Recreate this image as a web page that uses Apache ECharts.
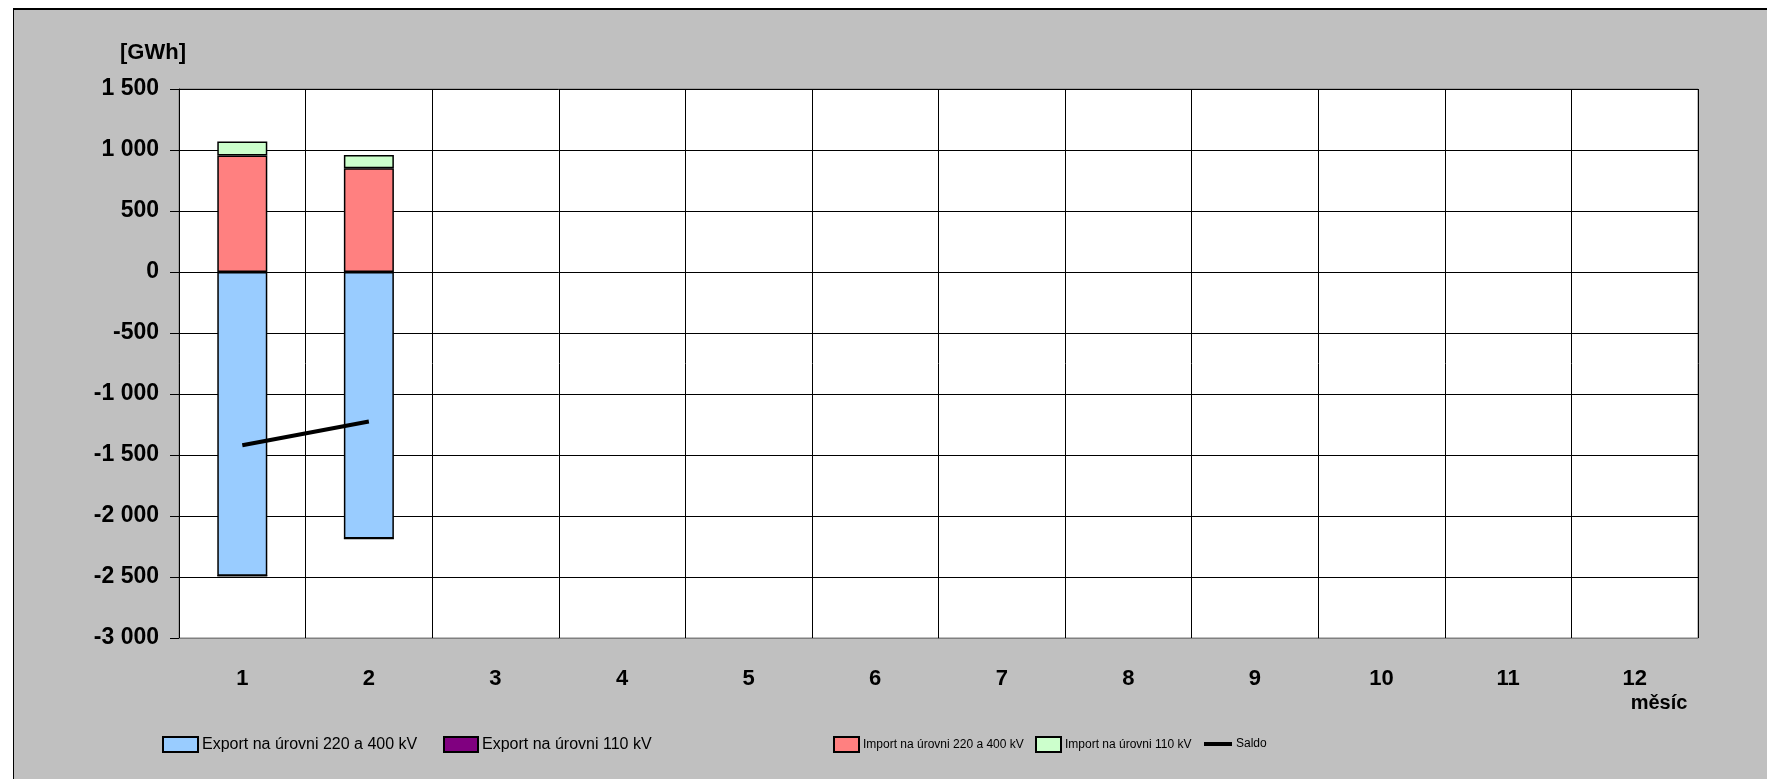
<!DOCTYPE html>
<html>
<head>
<meta charset="utf-8">
<script src="https://cdn.jsdelivr.net/npm/echarts@6/dist/echarts.min.js"></script>
<style>
  body { margin: 0; background: #fff; }
  #wrap { position: relative; width: 1767px; height: 779px; }
  #frame {
    position: absolute; left: 13px; top: 8px; right: 0; bottom: 0;
    background: #c0c0c0; border-left: 1px solid #000; border-top: 2px solid #000;
  }
  #chart { position: absolute; left: 0; top: 0; width: 1767px; height: 779px; }
</style>
</head>
<body>
<div id="wrap">
  <div id="frame"></div>
  <div id="chart"></div>
</div>
<script>
// months on x axis
var months = ['1', '2', '3', '4', '5', '6', '7', '8', '9', '10', '11', '12'];
// GWh (only Jan and Feb filled)
var export400 = [-2490, -2185, null, null, null, null, null, null, null, null, null, null];
var export110 = [0, 0, null, null, null, null, null, null, null, null, null, null];
var import400 = [955, 850, null, null, null, null, null, null, null, null, null, null];
var import110 = [115, 110, null, null, null, null, null, null, null, null, null, null];
var saldo = [-1420, -1225, null, null, null, null, null, null, null, null, null, null];

var names = [
  'Export na úrovni 220 a 400 kV',
  'Export na úrovni 110 kV',
  'Import na úrovni 220 a 400 kV',
  'Import na úrovni 110 kV',
  'Saldo'
];

var font = '"Liberation Sans", Arial, sans-serif';

function fmt(v) {
  var s = Math.abs(v).toString().replace(/\B(?=(\d{3})+(?!\d))/g, ' ');
  return (v < 0 ? '-' : '') + s;
}

function barSeries(name, color, data) {
  return {
    name: name,
    type: 'bar',
    stack: 'total',
    barWidth: 50,
    data: data,
    itemStyle: { color: color, borderColor: '#000', borderWidth: 1.5 }
  };
}

// one legend per item so each sits where it does in the original
function legendAt(name, left, top, w, h, size) {
  return {
    data: [name],
    left: left,
    top: top,
    icon: 'rect',
    itemWidth: w,
    itemHeight: h,
    itemGap: 0,
    textStyle: { color: '#000', fontSize: size, fontFamily: font, padding: [0, 0, 0, -1] }
  };
}

var chart = echarts.init(document.getElementById('chart'));
chart.setOption({
  animation: false,
  backgroundColor: 'transparent',
  textStyle: { fontFamily: font },
  grid: {
    left: 179, top: 89, width: 1519, height: 549,
    show: true, backgroundColor: '#fff', borderColor: '#808080', borderWidth: 1
  },
  legend: [
    legendAt(names[0], 157, 731, 35, 15, 16),
    legendAt(names[1], 438, 731, 34, 15, 16),
    legendAt(names[2], 828, 731, 25, 15, 12),
    legendAt(names[3], 1030, 731, 25, 15, 12),
    legendAt(names[4], 1199, 733, 28, 4, 12)
  ],
  xAxis: {
    type: 'category',
    data: months,
    axisLine: { onZero: false, lineStyle: { color: '#808080', width: 1 } },
    axisTick: { show: false },
    axisLabel: { color: '#000', fontSize: 22, fontWeight: 'bold', margin: 30 },
    splitLine: { show: true, lineStyle: { color: '#000', width: 1 } }
  },
  yAxis: {
    type: 'value',
    min: -3000,
    max: 1500,
    interval: 500,
    axisLine: { show: true, lineStyle: { color: '#000', width: 1 } },
    axisTick: { show: true, length: 9, lineStyle: { color: '#000' } },
    axisLabel: { color: '#000', fontSize: 23, fontWeight: 'bold', margin: 20, formatter: fmt },
    splitLine: { show: true, lineStyle: { color: '#000', width: 1 } }
  },
  graphic: [
    {
      type: 'text', x: 153, y: 53,
      style: { text: '[GWh]', fill: '#000', font: 'bold 22px ' + font, align: 'center', verticalAlign: 'middle' }
    },
    {
      type: 'text', x: 1659, y: 703,
      style: { text: 'měsíc', fill: '#000', font: 'bold 20px ' + font, align: 'center', verticalAlign: 'middle' }
    }
  ],
  series: [
    barSeries(names[0], '#99ccff', export400),
    barSeries(names[1], '#800080', export110),
    barSeries(names[2], '#ff8080', import400),
    barSeries(names[3], '#ccffcc', import110),
    {
      name: names[4],
      type: 'line',
      data: saldo,
      symbol: 'none',
      z: 5,
      itemStyle: { color: '#000' },
      lineStyle: { color: '#000', width: 4 }
    }
  ]
});
</script>
</body>
</html>
